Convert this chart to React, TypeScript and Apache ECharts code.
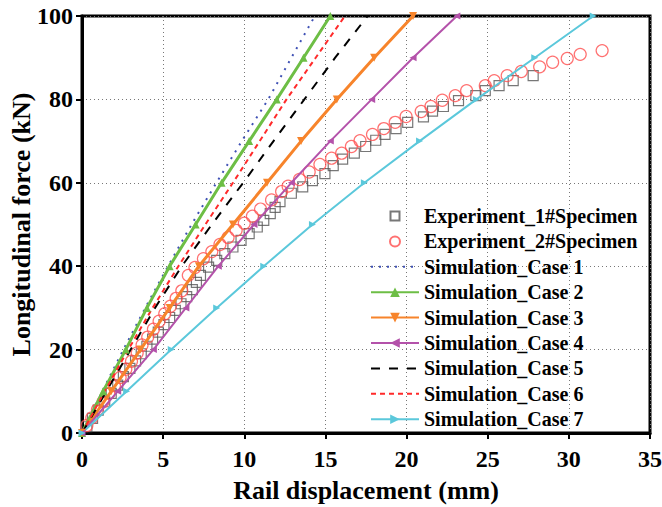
import React, { useEffect, useRef } from 'react';
import * as echarts from 'echarts';

// Experimental data (x: rail displacement mm, y: longitudinal force kN)
const exp1X = [0.3, 0.65, 1.0, 1.4, 1.8, 2.2, 2.55, 2.95, 3.3, 3.65, 4.0, 4.35, 4.7, 5.05, 5.4, 5.75, 6.1, 6.45, 6.8, 7.05, 7.3, 7.8, 8.3, 8.8, 9.3, 9.8, 10.3, 10.8, 11.2, 11.6, 11.9, 12.2, 12.9, 13.6, 14.2, 14.97, 15.48, 16.06, 16.78, 17.48, 18.1, 18.67, 19.35, 20.07, 21.04, 21.6, 22.27, 23.2, 24.27, 24.85, 25.7, 26.57, 27.8];
const exp1Y = [1.5, 3.5, 5.5, 7.5, 9.5, 11.5, 13.5, 15.5, 17.3, 19.0, 20.8, 22.5, 24.2, 26.0, 27.7, 29.4, 31.0, 32.7, 34.4, 36.1, 37.8, 39.8, 41.4, 43.0, 44.6, 46.2, 47.8, 49.4, 51.0, 52.6, 54.1, 55.5, 57.5, 59.0, 60.5, 62.2, 64.1, 65.7, 67.1, 68.7, 70.2, 71.6, 73.0, 74.5, 75.8, 77.2, 78.3, 79.7, 80.9, 82.1, 83.3, 84.5, 85.7];

const exp2X = [0.3, 0.6, 0.95, 1.3, 1.65, 2.0, 2.35, 2.7, 3.05, 3.4, 3.7, 4.05, 4.4, 4.75, 5.1, 5.45, 5.8, 6.15, 6.55, 6.96, 7.48, 8.0, 8.5, 9.0, 9.5, 10.0, 10.5, 11.0, 11.68, 12.3, 12.7, 13.4, 14.0, 14.66, 15.38, 16.0, 16.6, 17.13, 17.9, 18.6, 19.3, 19.97, 20.9, 21.5, 22.2, 23.0, 23.7, 24.85, 25.4, 26.2, 27.07, 28.2, 29.0, 29.9, 30.7, 32.05];
const exp2Y = [1.8, 3.6, 5.6, 7.5, 9.5, 11.4, 13.3, 15.3, 17.2, 19.2, 21.1, 23.0, 24.9, 26.8, 28.6, 30.4, 32.3, 34.1, 37.8, 39.7, 41.8, 43.5, 45.2, 46.9, 48.6, 50.3, 52.0, 53.7, 55.9, 57.9, 59.2, 60.8, 62.6, 64.4, 65.9, 67.1, 68.7, 70.1, 71.6, 73.0, 74.5, 75.9, 77.1, 78.3, 79.8, 80.9, 82.1, 83.3, 84.5, 85.7, 86.7, 87.8, 88.9, 89.8, 90.8, 91.7];

// Simulation curves: force levels and displacement at each level
const forceLevels = [0, 10, 20, 30, 40, 50, 60, 70, 80, 90, 100];
const case1X = [0, 1.25, 2.55, 3.9, 5.3, 6.75, 8.28, 9.85, 11.47, 12.9, 14.35];
const case2X = [0, 1.3, 2.7, 4.0, 5.4, 7.0, 8.6, 10.3, 12.0, 13.65, 15.3];
const case3X = [0, 1.8, 3.6, 5.4, 7.2, 9.3, 11.4, 13.5, 15.7, 18.0, 20.4];
const case4X = [0, 2.2, 4.4, 6.4, 8.4, 10.6, 12.9, 15.3, 17.85, 20.4, 23.1];
const case5X = [0, 1.5, 3.0, 4.5, 6.15, 8.0, 9.93, 11.8, 13.7, 15.6, 17.6];
const case6X = [0, 1.4, 2.85, 4.35, 5.94, 7.6, 9.3, 10.95, 12.6, 14.4, 16.2];
const case7X = [0, 2.75, 5.5, 8.3, 11.2, 14.2, 17.4, 20.8, 24.3, 27.9, 31.5];

const xTicks = { min: 0, max: 35, interval: 5 };
const yTicks = { min: 0, max: 100, interval: 20 };

const FONT = '"Liberation Serif", "Times New Roman", serif';

const pair = (xs: number[], ys: number[]) => xs.map((x, i) => [x, ys[i]]);

export default function App() {
  const ref = useRef<HTMLDivElement>(null);
  useEffect(() => {
    if (!ref.current) return;
    const chart = echarts.init(ref.current, undefined, { renderer: 'svg' });
    const lineSeries = (
      name: string,
      xs: number[],
      color: string,
      width: number,
      type: any,
      symbol: string,
      rotate: number,
      size: number
    ) => ({
      name,
      type: 'line',
      data: pair(xs, forceLevels),
      lineStyle: { color, width, type },
      itemStyle: { color },
      symbol,
      symbolRotate: rotate,
      symbolSize: size,
      showSymbol: symbol !== 'none',
      smooth: false,
    });
    const hidden = { opacity: 0 };
    chart.setOption({
      animation: false,
      backgroundColor: '#fff',
      grid: {
        left: 82,
        right: 12,
        top: 16,
        bottom: 74,
        show: true,
        borderColor: '#000',
        borderWidth: 3,
        backgroundColor: 'transparent',
        containLabel: false,
        outerBoundsMode: 'none',
      },
      legend: {
        orient: 'vertical',
        left: 365,
        top: 201,
        itemWidth: 48,
        itemHeight: 12,
        itemGap: 5.4,
        textStyle: { fontFamily: FONT, fontWeight: 'bold', fontSize: 20, color: '#000' },
        data: [
          { name: 'Experiment_1#Specimen', icon: 'path://M0,0M48,12M19.5,1.5L28.5,1.5L28.5,10.5L19.5,10.5Z' },
          { name: 'Experiment_2#Specimen', icon: 'path://M0,0M48,12M29,6A5,5,0,1,1,19,6A5,5,0,1,1,29,6Z' },
          { name: 'Simulation_Case 1', itemStyle: hidden },
          { name: 'Simulation_Case 2' },
          { name: 'Simulation_Case 3' },
          { name: 'Simulation_Case 4' },
          { name: 'Simulation_Case 5', itemStyle: hidden },
          { name: 'Simulation_Case 6', itemStyle: hidden },
          { name: 'Simulation_Case 7' },
        ],
      },
      xAxis: {
        type: 'value',
        min: xTicks.min,
        max: xTicks.max,
        interval: xTicks.interval,
        name: 'Rail displacement (mm)',
        nameLocation: 'middle',
        nameGap: 44,
        nameTextStyle: { fontFamily: FONT, fontWeight: 'bold', fontSize: 26, color: '#000' },
        axisLine: { lineStyle: { color: '#000', width: 3 } },
        axisTick: { show: true, length: 6, lineStyle: { color: '#000', width: 2 } },
        axisLabel: { fontFamily: FONT, fontWeight: 'bold', fontSize: 24, color: '#000', margin: 14 },
        splitLine: { show: true, lineStyle: { color: '#777', type: [1, 3], width: 1 } },
      },
      yAxis: {
        type: 'value',
        min: yTicks.min,
        max: yTicks.max,
        interval: yTicks.interval,
        name: 'Longitudinal force (kN)',
        nameLocation: 'middle',
        nameGap: 48,
        nameMoveOverlap: false,
        nameTextStyle: { fontFamily: FONT, fontWeight: 'bold', fontSize: 26, color: '#000' },
        axisLine: { lineStyle: { color: '#000', width: 3 } },
        axisTick: { show: true, length: 6, lineStyle: { color: '#000', width: 2 } },
        axisLabel: { fontFamily: FONT, fontWeight: 'bold', fontSize: 24, color: '#000', margin: 9 },
        splitLine: { show: true, lineStyle: { color: '#777', type: [1, 3], width: 1 } },
      },
      series: [
        {
          name: 'Experiment_1#Specimen',
          type: 'scatter',
          data: pair(exp1X, exp1Y),
          symbol: 'rect',
          symbolSize: 10,
          itemStyle: { color: 'rgba(255,255,255,0)', borderColor: '#555', borderWidth: 1.2 },
        },
        {
          name: 'Experiment_2#Specimen',
          type: 'scatter',
          data: pair(exp2X, exp2Y),
          symbol: 'circle',
          symbolSize: 12,
          itemStyle: { color: 'rgba(255,255,255,0)', borderColor: '#FF4D4D', borderWidth: 1.2 },
        },
        lineSeries('Simulation_Case 1', case1X, '#3F51B5', 2, [2, 6], 'none', 0, 0),
        lineSeries('Simulation_Case 2', case2X, '#6DBE45', 3, 'solid', 'triangle', 0, 8),
        lineSeries('Simulation_Case 3', case3X, '#F7842B', 3, 'solid', 'triangle', 180, 8),
        lineSeries('Simulation_Case 4', case4X, '#B452AA', 2, 'solid', 'triangle', 90, 7),
        lineSeries('Simulation_Case 5', case5X, '#000000', 2, [9, 9], 'none', 0, 0),
        lineSeries('Simulation_Case 6', case6X, '#FF2A2A', 2, [5, 4], 'none', 0, 0),
        lineSeries('Simulation_Case 7', case7X, '#5BC8DB', 2, 'solid', 'triangle', -90, 7),
      ],
    });
    return () => chart.dispose();
  }, []);
  return (
    <div
      ref={ref}
      style={{ position: 'fixed', left: 0, top: 0, width: 662, height: 507, background: '#fff' }}
    />
  );
}
